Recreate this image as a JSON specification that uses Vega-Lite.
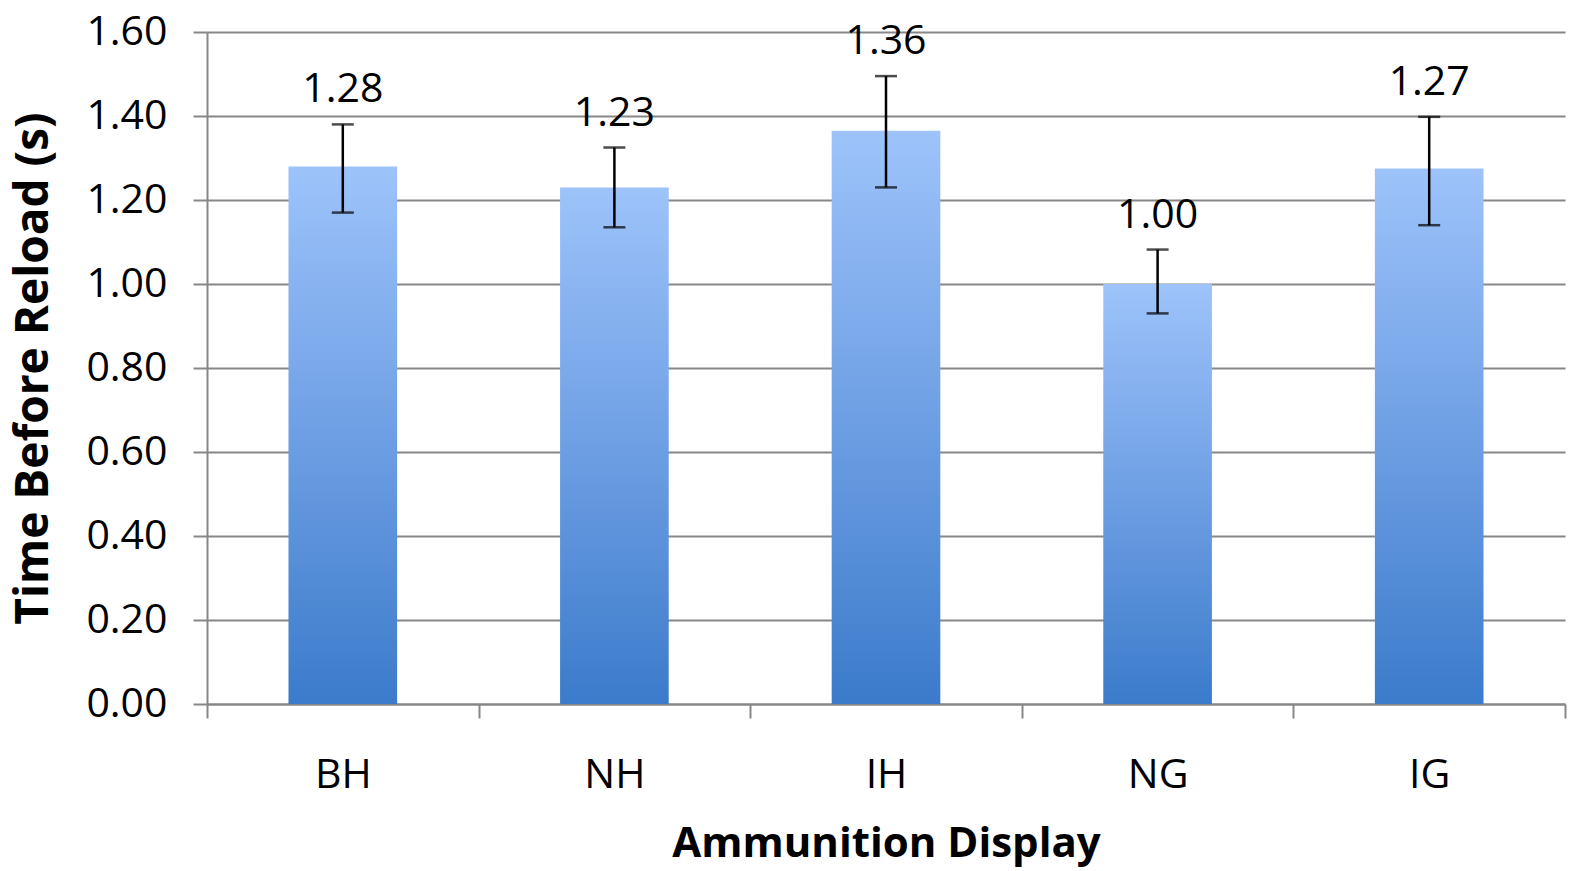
{
  "$schema": "https://vega.github.io/schema/vega-lite/v6.json",
  "autosize": "none",
  "width": 1358,
  "height": 672,
  "padding": {"left": 207, "top": 32, "right": 23, "bottom": 167},
  "background": "white",
  "data": {
    "values": [
      {"display": "BH", "time": 1.28, "lower": 1.17, "upper": 1.38, "label": "1.28"},
      {"display": "NH", "time": 1.23, "lower": 1.135, "upper": 1.325, "label": "1.23"},
      {"display": "IH", "time": 1.365, "lower": 1.23, "upper": 1.495, "label": "1.36"},
      {"display": "NG", "time": 1.0, "lower": 0.93, "upper": 1.082, "label": "1.00"},
      {"display": "IG", "time": 1.275, "lower": 1.14, "upper": 1.398, "label": "1.27"}
    ]
  },
  "encoding": {
    "x": {
      "field": "display", "type": "nominal", "sort": null,
      "scale": {"paddingInner": 0, "paddingOuter": 0},
      "axis": {
        "title": "Ammunition Display", "labelAngle": 0, "tickBand": "extent",
        "labelPadding": 37, "titlePadding": 28, "titleFontSize": 42
      }
    }
  },
  "layer": [
    {
      "mark": {
        "type": "bar",
        "width": {"band": 0.4},
        "fill": {
          "gradient": "linear", "x1": 0, "y1": 0, "x2": 0, "y2": 1,
          "stops": [
            {"offset": 0, "color": "#9DC3FA"},
            {"offset": 0.5, "color": "#6E9FE4"},
            {"offset": 1, "color": "#3B7BCA"}
          ]
        }
      },
      "encoding": {
        "y": {
          "field": "time", "type": "quantitative",
          "scale": {"domain": [0, 1.6], "nice": false},
          "axis": {
            "title": "Time Before Reload (s)", "format": ".2f",
            "values": [0, 0.2, 0.4, 0.6, 0.8, 1.0, 1.2, 1.4, 1.6],
            "labelPadding": 26, "titlePadding": 28, "titleFontSize": 46, "grid": true
          }
        }
      }
    },
    {
      "mark": {"type": "rule", "color": "black", "strokeWidth": 2.5},
      "encoding": {
        "y": {"field": "lower", "type": "quantitative"},
        "y2": {"field": "upper"}
      }
    },
    {
      "mark": {"type": "tick", "color": "black", "size": 22, "thickness": 2.5},
      "encoding": {"y": {"field": "lower", "type": "quantitative"}}
    },
    {
      "mark": {"type": "tick", "color": "black", "size": 22, "thickness": 2.5},
      "encoding": {"y": {"field": "upper", "type": "quantitative"}}
    },
    {
      "mark": {
        "type": "text", "baseline": "alphabetic", "dy": -22,
        "font": "Open Sans", "fontSize": 41, "color": "black"
      },
      "encoding": {
        "y": {"field": "upper", "type": "quantitative"},
        "text": {"field": "label"}
      }
    }
  ],
  "config": {
    "view": {"stroke": null},
    "axis": {
      "labelFont": "Open Sans", "labelFontSize": 41, "labelColor": "black",
      "titleFont": "Open Sans", "titleFontSize": 38, "titleFontWeight": "bold", "titleColor": "black",
      "domainColor": "#878787", "domainWidth": 2,
      "tickColor": "#878787", "tickWidth": 2, "tickSize": 14,
      "gridColor": "#878787", "gridWidth": 2
    }
  }
}
